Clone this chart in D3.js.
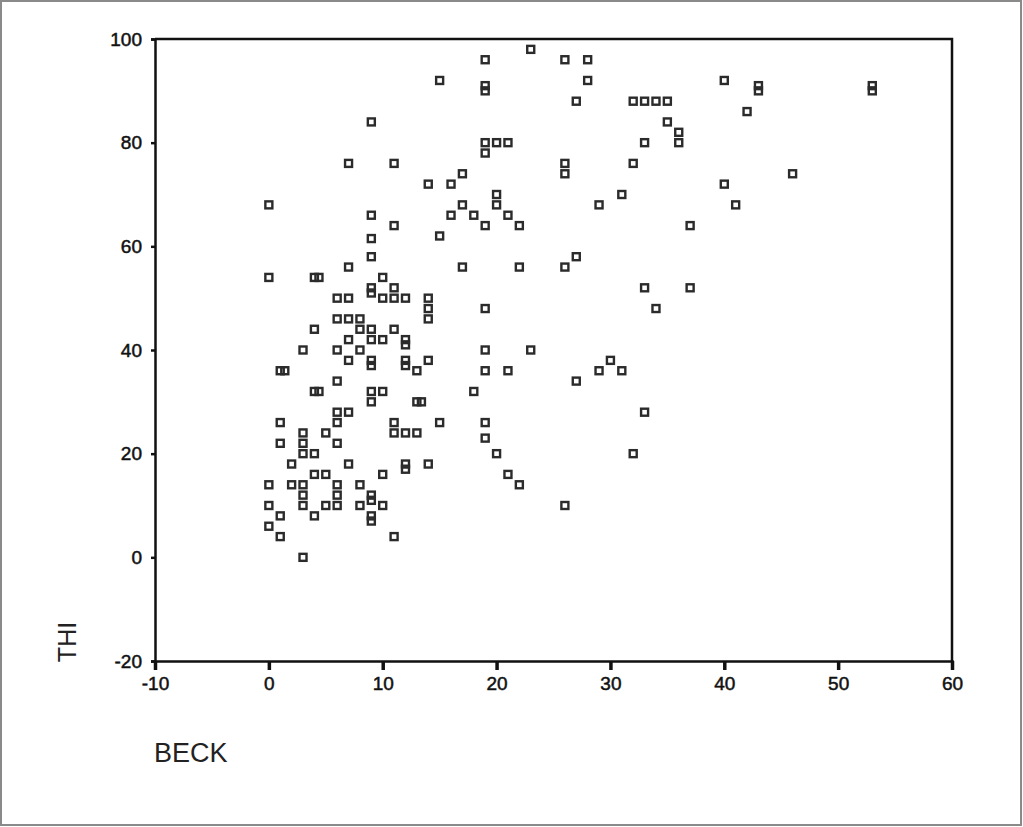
<!DOCTYPE html>
<html>
<head>
<meta charset="utf-8">
<script src="https://cdn.jsdelivr.net/npm/d3@7"></script>
<style>
  html, body { margin: 0; padding: 0; background: #fff; }
  svg { display: block; }
  .tick text { font-family: "Liberation Sans", Arial, sans-serif; font-size: 19px; fill: #111; stroke: #111; stroke-width: 0.5px; }
  .title { font-family: "Liberation Sans", Arial, sans-serif; fill: #222; }
</style>
</head>
<body>
<div id="chart"></div>
<script>
// --- Data (BECK vs THI) ---
const beck = [
  23, 15, 19, 19, 19, 26, 28, 28, 27, 40,
  32, 33, 34, 35, 35, 36, 36, 33, 19, 20,
  21, 19, 32, 26, 26, 17, 16, 14, 40, 20,
  20, 17, 18, 16, 21, 19, 22, 15, 31, 29,
  37, 17, 22, 26, 27, 33, 37, 14, 43, 43,
  42, 46, 41, 53, 53, 9, 7, 11, 0, 9,
  11, 9, 9, 7, 0, 4, 4.4, 10, 9, 9,
  11, 11, 12, 6, 7, 10, 14, 14, 6, 7,
  8, 4, 8, 9, 9, 10, 11, 7, 12, 12,
  3, 6, 8, 7, 9, 9, 12, 12, 14, 13,
  1, 1.4, 6, 4, 4.4, 9, 10, 9, 13, 13.4,
  6, 7, 1, 6, 11, 11, 12, 13, 15, 3,
  3, 3, 4, 5, 6, 1, 2, 7, 12, 12,
  14, 10, 4, 5, 3, 3, 3, 6, 6, 6,
  5, 4, 0, 2, 8, 9, 9, 10, 8, 9,
  9, 0, 1, 0, 1, 3, 11, 19, 19, 23,
  19, 21, 18, 19, 19, 20, 21, 22, 26, 27,
  29, 30, 31, 33, 32, 34
];
const thi = [
  98, 92, 96, 90, 91, 96, 96, 92, 88, 92,
  88, 88, 88, 88, 84, 82, 80, 80, 80, 80,
  80, 78, 76, 76, 74, 74, 72, 72, 72, 70,
  68, 68, 66, 66, 66, 64, 64, 62, 70, 68,
  64, 56, 56, 56, 58, 52, 52, 50, 90, 91,
  86, 74, 68, 90, 91, 84, 76, 76, 68, 66,
  64, 61.5, 58, 56, 54, 54, 54, 54, 52, 51,
  52, 50, 50, 50, 50, 50, 48, 46, 46, 46,
  46, 44, 44, 44, 42, 42, 44, 42, 42, 41,
  40, 40, 40, 38, 38, 37, 38, 37, 38, 36,
  36, 36, 34, 32, 32, 32, 32, 30, 30, 30,
  28, 28, 26, 26, 26, 24, 24, 24, 26, 24,
  22, 20, 20, 24, 22, 22, 18, 18, 18, 17,
  18, 16, 16, 16, 14, 12, 10, 14, 12, 10,
  10, 8, 14, 14, 14, 12, 11, 10, 10, 8,
  7, 10, 8, 6, 4, 0, 4, 48, 40, 40,
  36, 36, 32, 26, 23, 20, 16, 14, 10, 34,
  36, 38, 36, 28, 20, 48
];
const xTicks = [-10, 0, 10, 20, 30, 40, 50, 60];
const yTicks = [-20, 0, 20, 40, 60, 80, 100];

const width = 1023, height = 827;

const svg = d3.select("#chart").append("svg")
  .attr("width", width)
  .attr("height", height);

// outer picture border
svg.append("rect")
  .attr("x", 1).attr("y", 1)
  .attr("width", width - 3).attr("height", height - 3)
  .attr("fill", "#fff")
  .attr("stroke", "#8a8a8a")
  .attr("stroke-width", 2);

const x = d3.scaleLinear().domain([-10, 60]).range([155, 952]);
const y = d3.scaleLinear().domain([-20, 100]).range([661, 39]);

// frame: top + right
svg.append("path")
  .attr("d", `M${x(-10)},${y(100)}H${x(60)}V${y(-20)}`)
  .attr("fill", "none")
  .attr("stroke", "#111")
  .attr("stroke-width", 2.5);

const fmt = d => String(d); // plain hyphen for negatives

// x axis
const gx = svg.append("g")
  .attr("transform", `translate(0,${y(-20)})`)
  .call(d3.axisBottom(x).tickValues(xTicks).tickSize(9).tickPadding(7).tickFormat(fmt));
gx.select(".domain").attr("stroke", "#111").attr("stroke-width", 2.5);
gx.selectAll(".tick line").attr("stroke", "#111").attr("stroke-width", 3.5);

// y axis
const gy = svg.append("g")
  .attr("transform", `translate(${x(-10)},0)`)
  .call(d3.axisLeft(y).tickValues(yTicks).tickSize(4).tickPadding(9).tickFormat(fmt));
gy.select(".domain").attr("stroke", "#111").attr("stroke-width", 2.5);
gy.selectAll(".tick line").attr("stroke", "#111").attr("stroke-width", 2.5);

// markers: open squares
const pts = beck.map((b, i) => ({ b: b, t: thi[i] }));
svg.append("g")
  .selectAll("rect")
  .data(pts)
  .enter().append("rect")
  .attr("x", d => x(d.b) - 3.5)
  .attr("y", d => y(d.t) - 3.5)
  .attr("width", 7)
  .attr("height", 7)
  .attr("fill", "none")
  .attr("stroke", "#2b2b2b")
  .attr("stroke-width", 2.4);

// axis titles
svg.append("text")
  .attr("class", "title")
  .attr("transform", "translate(76,642) rotate(-90)")
  .attr("text-anchor", "middle")
  .attr("font-size", 25)
  .text("THI");

svg.append("text")
  .attr("class", "title")
  .attr("x", 154)
  .attr("y", 762)
  .attr("font-size", 27)
  .text("BECK");
</script>
</body>
</html>
